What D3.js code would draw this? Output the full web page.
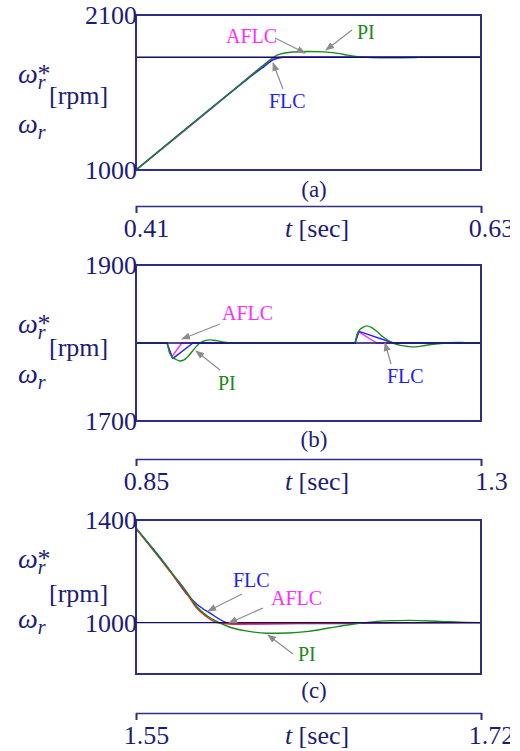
<!DOCTYPE html>
<html>
<head>
<meta charset="utf-8">
<script src="https://cdn.jsdelivr.net/npm/d3@7/dist/d3.min.js"></script>
<style>
  html, body { margin: 0; padding: 0; background: #fff; }
  svg { display: block; font-family: 'Liberation Serif', 'DejaVu Serif', serif !important; }
  svg text { font-family: 'Liberation Serif', 'DejaVu Serif', serif !important; }
</style>
</head>
<body>
<svg id="chart" width="510" height="751"></svg>
<script>
// ---- speed responses, [time s, speed rpm] ----
// (a) start-up ramp to 1800 rpm
const piA   = [[0.41,1000],[0.48,1640],[0.49,1732],[0.495,1778],[0.4975,1798],[0.50,1815],[0.505,1830],[0.51,1837],[0.52,1841],[0.53,1838],[0.54,1826],[0.545,1815],[0.55,1806],[0.555,1801],[0.56,1798],[0.57,1796],[0.58,1797],[0.59,1799],[0.60,1800],[0.63,1800]];
const flcA  = [[0.41,1000],[0.48,1636],[0.485,1680],[0.49,1720],[0.4975,1781],[0.5037,1800],[0.63,1800]];
const aflcA = [[0.41,1000],[0.48,1640],[0.485,1688],[0.49,1733],[0.495,1772],[0.4975,1790],[0.50,1797],[0.503,1800],[0.63,1800]];
// (b) load torque applied and removed at 1800 rpm
const piB   = [[0.85,1800],[0.8904,1800],[0.8935,1788],[0.897,1782],[0.902,1779],[0.9074,1777],[0.912,1778],[0.918,1783],[0.924,1790],[0.9335,1800],[0.94,1803],[0.9465,1804],[0.955,1803],[0.965,1801],[0.975,1800],[1.1357,1800],[1.138,1810],[1.141,1816],[1.146,1820],[1.151,1822],[1.157,1820],[1.164,1815],[1.172,1808],[1.1852,1800],[1.195,1797],[1.205,1795.5],[1.2113,1795],[1.222,1796],[1.235,1798],[1.2553,1800],[1.268,1800.8],[1.28,1800.4],[1.3,1800]];
const flcB  = [[0.85,1800],[0.8904,1800],[0.8979,1780],[0.9243,1800],[1.1357,1800],[1.1409,1815],[1.1856,1800],[1.3,1800]];
const aflcB = [[0.85,1800],[0.8904,1800],[0.8966,1782],[0.9096,1800],[1.1357,1800],[1.14,1814.5],[1.164,1800],[1.3,1800]];
// (c) deceleration to 1000 rpm
const piC   = [[1.55,1368],[1.565,1220],[1.575,1120],[1.58,1062],[1.585,1027],[1.59,1004],[1.596,983],[1.605,967],[1.614,959],[1.625,960],[1.635,966],[1.645,979],[1.655,992],[1.662,999],[1.672,1007],[1.685,1009],[1.70,1005],[1.713,1001],[1.72,1000]];
const flcC  = [[1.55,1368],[1.565,1222],[1.575,1112],[1.58,1072],[1.5865,1037],[1.5947,1000],[1.598,995],[1.61,996],[1.65,997],[1.68,999],[1.72,1000]];
const aflcC = [[1.55,1366],[1.565,1217],[1.575,1114],[1.58,1056],[1.585,1022],[1.588,1006],[1.591,998],[1.596,995],[1.61,996],[1.63,998],[1.66,999],[1.72,1000]];

// speed command after the transient
const refA = 1800, refB = 1800, refC = 1000;

// axis ticks
const xTicksA = [0.41, 0.63], yTicksA = [1000, 2100];
const xTicksB = [0.85, 1.3],  yTicksB = [1700, 1900];
const xTicksC = [1.55, 1.72], yTicksC = [1000, 1400];
const subLabels = ["(a)", "(b)", "(c)"];

const SERIF = "'Liberation Serif', 'DejaVu Serif', serif";
const NAVY = "#1c1c78";
const FRAME = "#2e2e86";
const ARROW = "#8c8c8c";

const svg = d3.select("#chart").attr("font-family", SERIF);

svg.append("defs").append("marker")
  .attr("id", "head")
  .attr("viewBox", "0 0 10 10")
  .attr("refX", 9).attr("refY", 5)
  .attr("markerWidth", 9).attr("markerHeight", 9)
  .attr("markerUnits", "userSpaceOnUse")
  .attr("orient", "auto")
  .append("path").attr("d", "M0,1 L10,5 L0,9 Z").attr("fill", ARROW);

const panels = [
  { xDom: [0.41, 0.63], yDom: [1000, 2100], top: 15, bottom: 170, axisY: 206,
    xTicks: xTicksA, yTicks: yTicksA, ref: refA,
    series: [[aflcA, "#ff2bff"], [flcA, "#2020ff"], [piA, "#1a8a1a"]],
    curve: [d3.curveMonotoneX, d3.curveMonotoneX, d3.curveMonotoneX],
    yTitle: [83, 104, 133], sub: 197,
    notes: [
      { name: "AFLC", color: "#ff2bff", tx: 226, ty: 43, from: [275, 38], to: [305, 53] },
      { name: "PI",   color: "#1a8a1a", tx: 357, ty: 39, from: [352, 30], to: [326, 50] },
      { name: "FLC",  color: "#2020ff", tx: 269, ty: 108, from: [283, 89], to: [273, 63] }
    ] },
  { xDom: [0.85, 1.3], yDom: [1700, 1900], top: 265, bottom: 421, axisY: 459,
    xTicks: xTicksB, yTicks: yTicksB, ref: refB,
    series: [[aflcB, "#ff2bff"], [flcB, "#2020ff"], [piB, "#1a8a1a"]],
    curve: [d3.curveLinear, d3.curveLinear, d3.curveMonotoneX],
    yTitle: [333, 356, 383], sub: 447,
    notes: [
      { name: "AFLC", color: "#ff2bff", tx: 222, ty: 320, from: [220, 324], to: [182, 339] },
      { name: "PI",   color: "#1a8a1a", tx: 218, ty: 390, from: [220, 370], to: [196, 351] },
      { name: "FLC",  color: "#2020ff", tx: 387, ty: 383, from: [391, 364], to: [385, 343] }
    ] },
  { xDom: [1.55, 1.72], yDom: [800, 1400], top: 520, bottom: 674, axisY: 713,
    xTicks: xTicksC, yTicks: yTicksC, ref: refC,
    series: [[flcC, "#2020ff"], [aflcC, "#ff1a1a"], [piC, "#1a8a1a"]],
    curve: [d3.curveMonotoneX, d3.curveMonotoneX, d3.curveMonotoneX],
    yTitle: [568, 602, 628], sub: 698,
    notes: [
      { name: "FLC",  color: "#2020ff", tx: 233, ty: 587, from: [242, 594], to: [208, 611] },
      { name: "AFLC", color: "#ff2bff", tx: 271, ty: 605, from: [263, 608], to: [229, 623] },
      { name: "PI",   color: "#1a8a1a", tx: 298, ty: 661, from: [293, 654], to: [268, 635] }
    ] }
];

const left = 136, right = 481;

panels.forEach((p, i) => {
  const x = d3.scaleLinear().domain(p.xDom).range([left, right]);
  const y = d3.scaleLinear().domain(p.yDom).range([p.bottom, p.top]);
  const g = svg.append("g").attr("font-family", SERIF);

  // clip curves to the plot frame
  const clipId = "clip" + i;
  svg.select("defs").append("clipPath").attr("id", clipId)
    .append("rect").attr("x", left).attr("y", p.top)
    .attr("width", right - left).attr("height", p.bottom - p.top);

  const plot = g.append("g").attr("clip-path", `url(#${clipId})`);

  p.series.forEach(([data, color], k) => {
    const line = d3.line().x(d => x(d[0])).y(d => y(d[1])).curve(p.curve[k]);
    plot.append("path").attr("d", line(data))
      .attr("fill", "none").attr("stroke", color)
      .attr("stroke-width", 1.4).attr("stroke-linejoin", "round");
  });

  // speed command line
  plot.append("line")
    .attr("x1", x(p.xDom[0])).attr("x2", x(p.xDom[1]))
    .attr("y1", y(p.ref)).attr("y2", y(p.ref))
    .attr("stroke", "#10106a").attr("stroke-width", 1.3);

  // frame
  g.append("rect").attr("x", left).attr("y", p.top)
    .attr("width", right - left).attr("height", p.bottom - p.top)
    .attr("fill", "none").attr("stroke", FRAME).attr("stroke-width", 2);

  // y tick labels
  g.selectAll(".ytick").data(p.yTicks).join("text")
    .attr("x", 137).attr("y", d => y(d) + 9)
    .attr("text-anchor", "end").attr("font-size", 26).attr("fill", NAVY)
    .text(d => d);

  // y title: ω_r*, [rpm], ω_r  (sub/superscripts as tspans of one text)
  const [y1, y2, y3] = p.yTitle;
  const w1 = g.append("text").attr("x", 18).attr("y", y1).attr("fill", NAVY);
  w1.append("tspan").attr("font-size", 28).attr("font-style", "italic").text("ω");
  w1.append("tspan").attr("font-size", 20).attr("font-style", "italic").attr("dy", 6).text("r");
  w1.append("tspan").attr("font-size", 26).attr("dx", -8).attr("dy", -7).text("*");
  g.append("text").attr("x", 49).attr("y", y2).attr("font-size", 26)
    .attr("fill", NAVY).text("[rpm]");
  const w2 = g.append("text").attr("x", 18).attr("y", y3).attr("fill", NAVY);
  w2.append("tspan").attr("font-size", 28).attr("font-style", "italic").text("ω");
  w2.append("tspan").attr("font-size", 20).attr("font-style", "italic").attr("dy", 6).text("r");

  // annotations with arrows
  p.notes.forEach(n => {
    g.append("line")
      .attr("x1", n.from[0]).attr("y1", n.from[1])
      .attr("x2", n.to[0]).attr("y2", n.to[1])
      .attr("stroke", ARROW).attr("stroke-width", 1.2)
      .attr("marker-end", "url(#head)");
    g.append("text").attr("x", n.tx).attr("y", n.ty)
      .attr("font-size", 20).attr("fill", n.color).text(n.name);
  });

  // sub-figure label
  g.append("text").attr("x", 314).attr("y", p.sub)
    .attr("text-anchor", "middle").attr("font-size", 23).attr("fill", NAVY)
    .text(subLabels[i]);

  // time axis drawn as a bracket below the frame
  const axis = d3.axisBottom(x).tickValues(p.xTicks)
    .tickSizeInner(7).tickSizeOuter(7).tickPadding(6)
    .tickFormat(d => String(d));
  const ax = g.append("g").attr("transform", `translate(0,${p.axisY})`).call(axis)
    .attr("font-family", SERIF);
  ax.select(".domain").attr("stroke", FRAME).attr("stroke-width", 1.6);
  ax.selectAll(".tick line").attr("stroke", FRAME).attr("stroke-width", 1.6);
  ax.selectAll(".tick text")
    .attr("font-size", 26).attr("fill", NAVY).attr("dx", 10);

  const tt = g.append("text").attr("x", 317).attr("y", p.axisY + 31)
    .attr("text-anchor", "middle").attr("font-size", 26).attr("fill", NAVY);
  tt.append("tspan").attr("font-style", "italic").text("t");
  tt.append("tspan").text(" [sec]");
});
</script>
</body>
</html>
